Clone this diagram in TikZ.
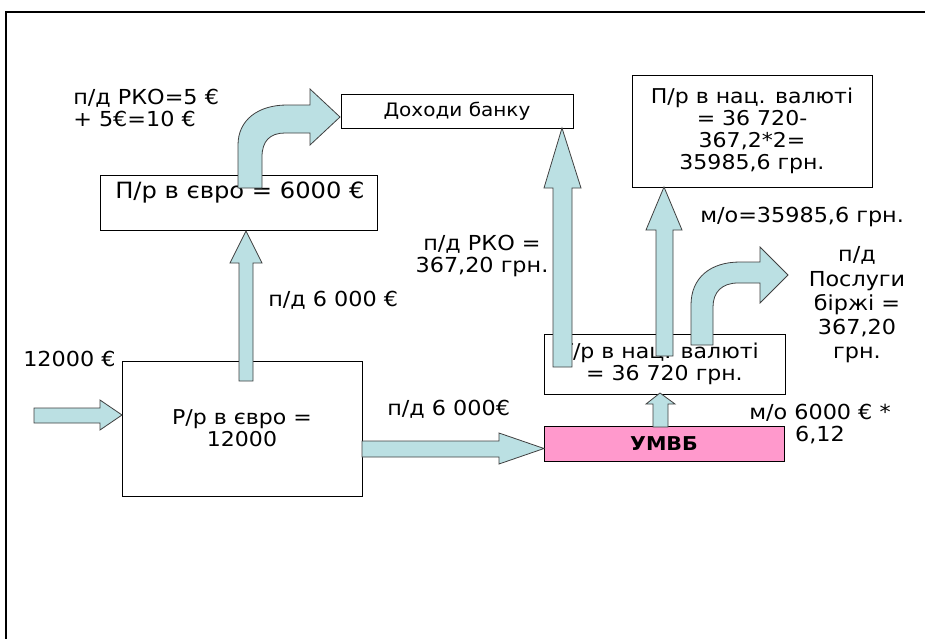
\documentclass[tikz,border=0pt]{standalone}
\usepackage{fontspec}
\setmainfont{DejaVu Sans}[FakeStretch=1.08]
\definecolor{arrowfill}{RGB}{187,224,227}
\definecolor{pinkfill}{RGB}{255,153,204}
\begin{document}
\begin{tikzpicture}[x=0.75pt,y=-0.75pt,
  box/.style={draw=black, line width=0.7pt, fill=white, rectangle, inner sep=0pt, align=center,
    font=\fontsize{15.3}{16.6}\selectfont},
  blockarrow/.style={draw=black!75, line width=0.6pt, fill=arrowfill, line join=miter},
  lbl/.style={inner sep=0pt, font=\fontsize{15.5}{16.5}\selectfont, align=center}]
\useasboundingbox (0,0) rectangle (925,639);
\fill[white] (0,0) rectangle (925,639);
\draw[line width=1.6pt] (6,639) -- (6,12) -- (925,12);

% boxes
\node[box, minimum width=174pt, minimum height=25.5pt, font=\fontsize{13.9}{15}\selectfont] (dohody) at (457,111) {Доходи банку};
\node[box, minimum width=180pt, minimum height=84pt] (pnac) at (752,131) {П/р в нац. валюті\\= 36 720-\\367,2*2=\\35985,6 грн.};
\node[box, minimum width=207.75pt, minimum height=41.25pt] (peuro) at (238.5,202.5) {};
\node[lbl, anchor=west, font=\fontsize{16.8}{18}\selectfont] (peurotxt) at (115,193) {П/р в євро = 6000 €};
\node[box, minimum width=180pt, minimum height=101.25pt] (rr) at (242,428.5) {Р/р в євро =\\12000};
\node[box, minimum width=180.75pt, minimum height=45pt] (tr) at (664.5,364) {\hspace*{-8pt}Т/р в нац. валюті\\= 36 720 грн.};
\node[box, fill=pinkfill, minimum width=180pt, minimum height=26.25pt, font=\fontsize{14.3}{15}\selectfont\bfseries] (umvb) at (664,443.5) {УМВБ};

% block arrows
\draw[blockarrow] (34,408) -- (100,408) -- (100,400) -- (122,415) -- (100,430) -- (100,423) -- (34,423) -- cycle;
\draw[blockarrow] (239,381) -- (239,263) -- (230,263) -- (246,231) -- (262,263) -- (253,263) -- (253,381) -- cycle;
\draw[blockarrow] (238,188) -- (238,145) .. controls (238,120) and (258,105) .. (287,105) -- (310,105) -- (310,89) -- (340,117) -- (310,145) -- (310,133) -- (285,133) .. controls (270,133) and (262,141) .. (262,157) -- (262,188) -- cycle;
\draw[blockarrow] (553,367) -- (553,188) -- (544,188) -- (562,128) -- (581,188) -- (572,188) -- (572,367) -- cycle;
\draw[blockarrow] (656,356) -- (656,230) -- (646,230) -- (664,187) -- (682,230) -- (673,230) -- (673,356) -- cycle;
\draw[blockarrow] (691,345) -- (691,305) .. controls (691,278) and (710,262) .. (740,262) -- (760,262) -- (760,247) -- (788,275) -- (760,303) -- (760,283) -- (738,283) .. controls (722,283) and (713,292) .. (713,307) -- (713,345) -- cycle;
\draw[blockarrow] (653,427) -- (653,404) -- (646,404) -- (660,393) -- (675,404) -- (668,404) -- (668,427) -- cycle;
\draw[blockarrow] (362,441) -- (499,441) -- (499,433) -- (544,448.5) -- (499,464) -- (499,457) -- (362,457) -- cycle;

% labels
\node[lbl, anchor=west, align=left] (l1) at (73,108) {п/д РКО=5 €\\+ 5€=10 €};
\node[lbl, anchor=west] (l2) at (23,359) {12000 €};
\node[lbl, anchor=west] (l3) at (268,300) {п/д 6 000 €};
\node[lbl, anchor=west] (l4) at (387,409) {п/д 6 000€};
\node[lbl] (l5) at (482,256) {п/д РКО =\\367,20 грн.};
\node[lbl, anchor=west] (l6) at (700,217) {м/о=35985,6 грн.};
\node[lbl, font=\fontsize{15.5}{18.2}\selectfont] (l7) at (857,305) {п/д\\Послуги\\біржі =\\367,20\\грн.};
\node[lbl] (l8) at (820,424) {м/о 6000 € *\\6,12};
\end{tikzpicture}
\end{document}
